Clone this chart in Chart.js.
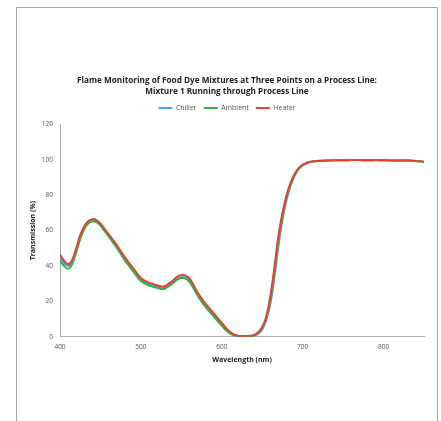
<!DOCTYPE html>
<html>
<head>
<meta charset="utf-8">
<script src="https://cdn.jsdelivr.net/npm/chart.js@4/dist/chart.umd.min.js"></script>
<style>
  html, body { margin: 0; padding: 0; background: #ffffff; }
  #wrap { position: relative; width: 441px; height: 421px; }
  #frame { position: absolute; left: 16px; top: 7px; width: 422px; height: 420px; border: 1px solid #a9a9a9; box-sizing: border-box; pointer-events: none; }
  canvas { position: absolute; left: 0; top: 0; }
</style>
</head>
<body>
<div id="wrap">
  <canvas id="chart" width="441" height="421"></canvas>
  <div id="frame"></div>
</div>
<script>
// Wavelengths (nm) where transmission was sampled
const wavelengths = [
  400, 405, 410, 415, 420, 425, 430, 435, 440, 445,
  450, 455, 460, 465, 470, 475, 480, 485, 490, 495,
  500, 505, 510, 515, 520, 525, 530, 535, 540, 545,
  550, 555, 560, 565, 570, 575, 580, 585, 590, 595,
  600, 605, 610, 615, 620, 625, 630, 635, 640, 645,
  650, 655, 660, 665, 670, 675, 680, 685, 690, 695,
  700, 705, 710, 715, 720, 730, 740, 750, 760, 770,
  780, 790, 800, 810, 820, 830, 840, 850
];

// Transmission (%) at the chiller
const chiller = [
  45.0, 41.8, 40.0, 42.5, 48.8, 56.2, 61.5, 64.6, 65.6, 65.2,
  63.2, 60.2, 57.2, 54.2, 51.0, 47.6, 44.0, 41.0, 38.0, 35.0,
  32.2, 30.7, 29.7, 29.0, 28.2, 27.5, 27.8, 29.2, 31.0, 32.8,
  33.8, 33.5, 31.8, 28.2, 24.2, 20.7, 17.6, 14.9, 12.3, 9.6,
  6.9, 4.3, 2.3, 1.0, 0.5, 0.3, 0.3, 0.4, 0.7, 1.8,
  4.2, 9.5, 18.5, 33.0, 51.0, 66.0, 77.0, 85.2, 91.0, 94.8,
  96.9, 98.1, 98.8, 99.2, 99.4, 99.7, 99.8, 99.8, 99.9, 99.9,
  99.8, 99.9, 99.8, 99.7, 99.6, 99.6, 99.4, 99.0
];

// Transmission (%) at ambient temperature
const ambient = [
  43.2, 40.0, 38.4, 41.0, 47.5, 55.2, 60.8, 64.0, 65.1, 64.8,
  62.8, 59.8, 56.7, 53.6, 50.4, 47.0, 43.3, 40.2, 37.2, 34.2,
  31.5, 30.0, 29.0, 28.3, 27.6, 27.0, 27.3, 28.7, 30.5, 32.3,
  33.2, 32.9, 31.1, 27.5, 23.4, 19.9, 16.8, 14.1, 11.5, 8.8,
  6.2, 3.7, 1.9, 0.8, 0.4, 0.3, 0.3, 0.4, 0.8, 2.1,
  4.8, 10.3, 20.5, 36.0, 54.0, 68.0, 78.5, 86.0, 91.5, 95.0,
  97.0, 98.2, 98.9, 99.2, 99.4, 99.7, 99.8, 99.8, 99.9, 99.9,
  99.8, 99.9, 99.8, 99.7, 99.6, 99.6, 99.4, 99.0
];

// Transmission (%) at the heater
const heater = [
  46.5, 43.0, 41.0, 43.5, 50.0, 57.5, 62.5, 65.5, 66.5, 66.0,
  64.0, 61.0, 58.0, 55.0, 52.0, 48.5, 45.0, 42.0, 39.0, 36.0,
  33.2, 31.6, 30.6, 29.9, 29.1, 28.4, 28.7, 30.2, 32.0, 34.0,
  35.0, 34.7, 33.0, 29.3, 25.2, 21.7, 18.6, 15.9, 13.3, 10.6,
  7.8, 5.0, 2.8, 1.3, 0.6, 0.4, 0.4, 0.5, 1.0, 2.6,
  5.5, 11.5, 23.0, 39.0, 57.0, 70.0, 80.0, 87.0, 92.0, 95.3,
  97.2, 98.3, 99.0, 99.3, 99.5, 99.7, 99.8, 99.8, 99.9, 99.9,
  99.8, 99.9, 99.8, 99.7, 99.6, 99.6, 99.4, 99.0
];

const seriesNames = ['Chiller', 'Ambient', 'Heater'];
const seriesColors = ['#44a6e0', '#37b24d', '#e2432f'];

const xTickValues = [400, 450, 500, 550, 600, 650, 700, 750, 800, 850];
const xTickLabels = ['400', '', '500', '', '600', '', '700', '', '800', ''];
const yTickValues = [0, 10, 20, 30, 40, 50, 60, 70, 80, 90, 100, 110, 120];
const yTickLabels = ['0', '', '20', '', '40', '', '60', '', '80', '', '100', '', '120'];

const chartTitle = [
  'Flame Monitoring of Food Dye Mixtures at Three Points on a Process Line:',
  'Mixture 1 Running through Process Line'
];

const toPoints = (vals) => wavelengths.map((w, i) => ({ x: w, y: vals[i] }));
const allSeries = [chiller, ambient, heater];

const datasets = allSeries.map((vals, i) => ({
  label: seriesNames[i],
  data: toPoints(vals),
  borderColor: seriesColors[i],
  backgroundColor: seriesColors[i],
  borderWidth: 2,
  pointRadius: 0,
  tension: 0.35,
  fill: false,
  order: allSeries.length - i
}));

const FONT = "'Open Sans', 'Liberation Sans', sans-serif";

// Leaves a little extra room between the legend row and the plot area
const legendGap = {
  id: 'legendGap',
  beforeLayout(chart) {
    const lg = chart.legend;
    if (lg && !lg._gapWrapped) {
      const fit = lg.fit;
      lg.fit = function () { fit.call(this); this.height += 3; };
      lg._gapWrapped = true;
    }
  }
};

new Chart(document.getElementById('chart'), {
  type: 'line',
  data: { datasets },
  plugins: [legendGap],
  options: {
    responsive: false,
    animation: false,
    layout: { padding: { left: 30, right: 17, top: 0, bottom: 57 } },
    plugins: {
      title: {
        display: true,
        text: chartTitle,
        color: '#222222',
        font: { family: FONT, size: 8.2, weight: 'bold', lineHeight: 1.34 },
        padding: { top: 75.5, bottom: 0 }
      },
      legend: {
        display: true,
        labels: {
          usePointStyle: true,
          pointStyle: 'line',
          pointStyleWidth: 14,
          boxHeight: 6,
          padding: 7,
          color: '#555555',
          font: { family: FONT, size: 7, lineHeight: 1.6 },
          sort: (a, b) => a.datasetIndex - b.datasetIndex
        }
      },
      tooltip: { enabled: false }
    },
    scales: {
      x: {
        type: 'linear',
        min: 400,
        max: 850,
        afterBuildTicks: (scale) => { scale.ticks = xTickValues.map(v => ({ value: v })); },
        ticks: {
          autoSkip: false,
          maxRotation: 0,
          padding: 3,
          color: '#555555',
          font: { family: FONT, size: 6.5 },
          callback: (v) => xTickLabels[xTickValues.indexOf(v)]
        },
        grid: { display: false, drawTicks: true, tickLength: 3, color: '#b0b0b0' },
        border: { display: true, color: '#b0b0b0', width: 1 },
        title: {
          display: true,
          text: 'Wavelength (nm)',
          color: '#222222',
          font: { family: FONT, size: 7, weight: 'bold' },
          padding: { top: 2, bottom: 0 }
        }
      },
      y: {
        min: 0,
        max: 120,
        afterBuildTicks: (scale) => { scale.ticks = yTickValues.map(v => ({ value: v })); },
        afterFit: (scale) => { scale.width = 30; },
        ticks: {
          autoSkip: false,
          padding: 4,
          color: '#555555',
          font: { family: FONT, size: 6.5 },
          callback: (v) => yTickLabels[yTickValues.indexOf(v)]
        },
        grid: { display: false, drawTicks: true, tickLength: 3, color: '#b0b0b0' },
        border: { display: true, color: '#b0b0b0', width: 1 },
        title: {
          display: true,
          text: 'Transmission (%)',
          color: '#222222',
          font: { family: FONT, size: 7, weight: 'bold' },
          padding: { top: -1, bottom: 0 }
        }
      }
    }
  }
});
</script>
</body>
</html>
